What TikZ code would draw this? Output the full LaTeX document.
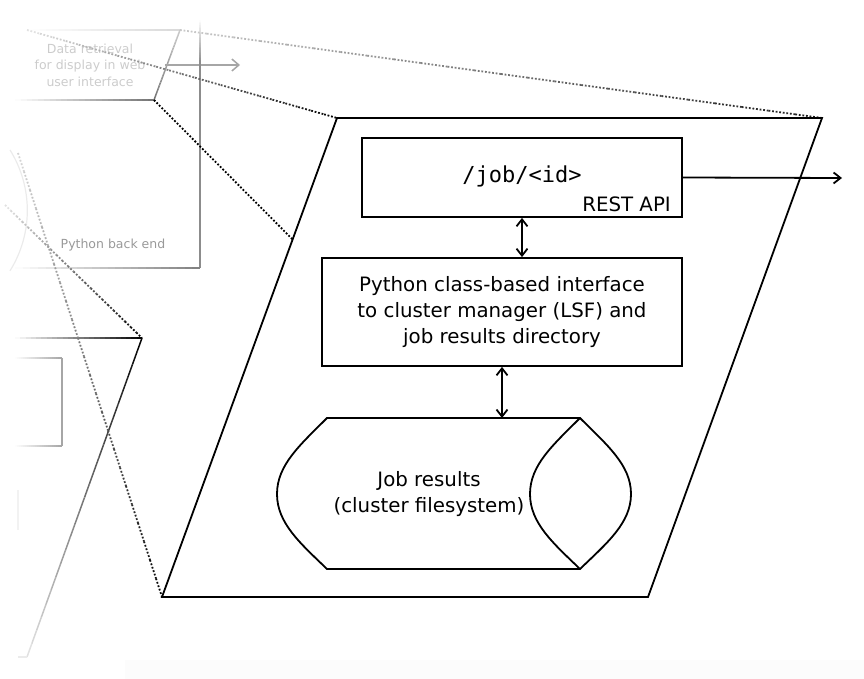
\documentclass[tikz,border=0pt]{standalone}
\usepackage{fontspec}
\setmainfont{DejaVu Sans}
\setmonofont{DejaVu Sans Mono}
\usetikzlibrary{arrows.meta,calc}
\newcommand\gradline[5]{%
  \foreach \i in {1,...,24}{%
    \pgfmathsetmacro\cc{#3+(#4-#3)*(\i-0.5)/24}%
    \draw[line width=1.5pt, draw=black!\cc, #5] ($#1!{(\i-1)/24}!#2$) -- ($#1!{\i/24}!#2$);
  }}
\begin{document}
\begin{tikzpicture}[x=1pt,y=-1pt,
  mainline/.style={line width=1.8pt},
  barb/.style={-{Straight Barb[length=7pt,width=11pt]}},
  dbarb/.style={{Straight Barb[length=7pt,width=11pt]}-{Straight Barb[length=7pt,width=11pt]}},
  lbl/.style={font=\fontsize{19.8}{26}\selectfont, align=center, inner sep=0pt},
  faded/.style={font=\fontsize{12.5}{16.5}\selectfont, align=center, inner sep=0pt},
  dots/.style={line width=1.8pt, dash pattern=on 1.8pt off 1.8pt},
]
\useasboundingbox (0,0) rectangle (864,679);
% faint background strip
\fill[black!1] (125,660) rectangle (864,679);

% ---- faded upper parallelogram (web UI data retrieval)
\gradline{(27,30)}{(180,30)}{0}{15}{}
\gradline{(180,30)}{(154,100)}{20}{55}{}
\gradline{(15,100)}{(154,100)}{0}{55}{}
\node[faded, text=black!20] (dataret) at (90,65) {Data retrieval\\for display in web\\user interface};
\coordinate (grayout) at (240,65);
\draw[line width=1.5pt, draw=black!35, -{Straight Barb[length=7pt,width=12pt]}] (165,65) -- (grayout);

% ---- faded Python back end box
\gradline{(200,20)}{(200,60)}{0}{42}{}
\draw[line width=1.5pt, draw=black!45] (200,60) -- (200,268);
\gradline{(15,268)}{(200,268)}{0}{50}{}
\node[faded, text=black!40] (pyback) at (113,245) {Python back end};
\draw[line width=1.2pt, draw=black!8] (10,150) arc[start angle=-32, end angle=32, radius=114];

% ---- faded second parallelogram
\gradline{(15,338)}{(142,338)}{0}{100}{}
\gradline{(142,338)}{(27,657)}{100}{10}{}
\draw[line width=1.2pt, draw=black!8] (18,657) -- (27,657);
\gradline{(15,358)}{(62,358)}{0}{35}{}
\gradline{(15,446)}{(62,446)}{0}{35}{}
\draw[line width=1.5pt, draw=black!35] (62,358) -- (62,446);
\draw[line width=1.2pt, draw=black!5] (18,490) -- (18,530);

% ---- dotted zoom lines
\gradline{(27,30)}{(337,118)}{10}{100}{dots}
\gradline{(180,30)}{(822,118)}{20}{90}{dots}
\draw[dots] (154,100) -- (648,597);
\gradline{(18,153)}{(162,597)}{15}{100}{dots}
\gradline{(5,205)}{(142,338)}{10}{100}{dots}

% ---- main parallelogram
\draw[mainline, fill=white] (337,118) -- (822,118) -- (648,597) -- (162,597) -- cycle;

% REST API box
\node[draw, mainline, minimum width=320pt, minimum height=79pt, inner sep=0pt] (rest) at (522,177.5) {};
\node[inner sep=0pt, font=\ttfamily\fontsize{22}{26}\selectfont] (jobid) at (522,176) {/job/<id>};
\node[lbl, anchor=east] (restapi) at (671,204) {REST API};
\coordinate (out) at (842,178);
\draw[mainline, barb] (rest.east) -- (out);

% Python interface box
\node[draw, mainline, minimum width=360pt, minimum height=108pt, lbl] (py) at (502,312) {Python class-based interface\\to cluster manager (LSF) and\\job results directory};
\draw[mainline, dbarb] (rest.south) -- (rest.south |- py.north);

% Job results storage
\draw[mainline] (327,418) -- (580,418)
  .. controls (607,445) and (631,465) .. (631,494)
  .. controls (631,523) and (607,543) .. (580,569)
  -- (327,569)
  .. controls (300,543) and (277,523) .. (277,494)
  .. controls (277,465) and (300,445) .. (327,418) -- cycle;
\draw[mainline] (580,418) .. controls (553,445) and (530,465) .. (530,494)
  .. controls (530,523) and (553,543) .. (580,569);
\coordinate (cyltop) at (502,418);
\node[lbl] (jobres) at (429,494) {Job results\\(cluster filesystem)};
\draw[mainline, dbarb] (py.south) -- (cyltop);
\end{tikzpicture}
\end{document}
